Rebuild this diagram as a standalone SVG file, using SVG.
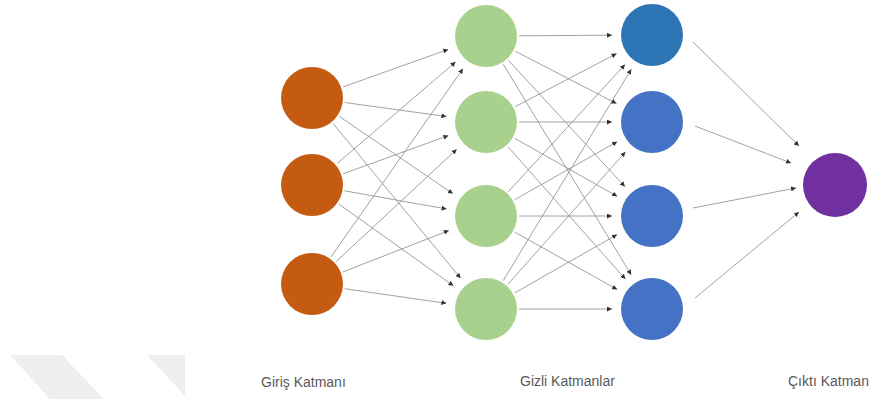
<svg xmlns="http://www.w3.org/2000/svg" width="870" height="399" viewBox="0 0 870 399">
<defs>
<style>
.edge{stroke:#8a8a8a;stroke-width:0.8;fill:none;marker-end:url(#arr)}
.lbl{font-family:"Liberation Sans",Arial,sans-serif;font-size:14px;fill:#595959}
.in{fill:#C55A11}
.hid{fill:#A9D18E}
.h2{fill:#4472C4}
.out{fill:#7030A0}
.wm{fill:#efefef}
</style>
<marker id="arr" viewBox="0 0 6 6" refX="6" refY="3" markerWidth="5" markerHeight="5" markerUnits="userSpaceOnUse" orient="auto">
<path d="M0,0 L6,3 L0,6 z" fill="#333"/>
</marker>
</defs>
<rect width="870" height="399" fill="#ffffff"/>
<g id="watermark">
<polygon class="wm" points="10,355 62,355 104,399 50,399"/>
<polygon class="wm" points="147,355 185,355 185,396"/>
</g>
<g id="connectors">
<line class="edge" x1="343.1" y1="86.9" x2="448.3" y2="49.4"/>
<line class="edge" x1="344.7" y1="102.5" x2="446.4" y2="116.5"/>
<line class="edge" x1="339.3" y1="116.5" x2="452.9" y2="193.6"/>
<line class="edge" x1="333.0" y1="123.4" x2="460.6" y2="278.2"/>
<line class="edge" x1="337.1" y1="163.5" x2="455.6" y2="62.0"/>
<line class="edge" x1="343.0" y1="173.8" x2="448.4" y2="135.6"/>
<line class="edge" x1="344.5" y1="190.8" x2="446.6" y2="209.0"/>
<line class="edge" x1="338.9" y1="204.1" x2="453.4" y2="285.8"/>
<line class="edge" x1="330.9" y1="257.0" x2="463.0" y2="68.7"/>
<line class="edge" x1="336.2" y1="261.5" x2="456.7" y2="149.3"/>
<line class="edge" x1="342.7" y1="272.0" x2="448.8" y2="230.6"/>
<line class="edge" x1="344.7" y1="288.7" x2="446.4" y2="303.3"/>
<line class="edge" x1="519" y1="35.8" x2="612" y2="35.2"/>
<line class="edge" x1="515.3" y1="51.2" x2="616.5" y2="103.6"/>
<line class="edge" x1="508.4" y1="60.3" x2="624.9" y2="186.6"/>
<line class="edge" x1="503.2" y1="64.2" x2="631.2" y2="274.8"/>
<line class="edge" x1="515.2" y1="106.7" x2="616.6" y2="53.6"/>
<line class="edge" x1="519" y1="122" x2="612" y2="122"/>
<line class="edge" x1="514.7" y1="138.3" x2="617.2" y2="196.3"/>
<line class="edge" x1="507.9" y1="146.7" x2="625.4" y2="279.1"/>
<line class="edge" x1="508.3" y1="191.7" x2="625.0" y2="64.5"/>
<line class="edge" x1="514.7" y1="199.7" x2="617.2" y2="141.7"/>
<line class="edge" x1="519" y1="216" x2="612" y2="216"/>
<line class="edge" x1="514.8" y1="232.1" x2="617.1" y2="289.4"/>
<line class="edge" x1="503.1" y1="280.8" x2="631.3" y2="69.2"/>
<line class="edge" x1="507.9" y1="284.3" x2="625.4" y2="151.9"/>
<line class="edge" x1="514.8" y1="292.9" x2="617.1" y2="234.6"/>
<line class="edge" x1="519" y1="309" x2="612" y2="309"/>
<line class="edge" x1="693" y1="42" x2="799" y2="146"/>
<line class="edge" x1="695" y1="126" x2="791" y2="163"/>
<line class="edge" x1="693" y1="208" x2="796" y2="188"/>
<line class="edge" x1="695" y1="298" x2="799" y2="212"/>
</g>
<g id="in1"><circle class="in" cx="312" cy="98" r="31"/></g>
<g id="in2"><circle class="in" cx="312" cy="185" r="31"/></g>
<g id="in3"><circle class="in" cx="312" cy="284" r="31"/></g>
<g id="h1"><circle class="hid" cx="486" cy="36" r="31"/></g>
<g id="h2"><circle class="hid" cx="486" cy="122" r="31"/></g>
<g id="h3"><circle class="hid" cx="486" cy="216" r="31"/></g>
<g id="h4"><circle class="hid" cx="486" cy="309" r="31"/></g>
<g id="b1"><circle cx="652" cy="35" r="31" fill="#2E75B6"/></g>
<g id="b2"><circle class="h2" cx="652" cy="122" r="31"/></g>
<g id="b3"><circle class="h2" cx="652" cy="216" r="31"/></g>
<g id="b4"><circle class="h2" cx="652" cy="309" r="31"/></g>
<g id="out"><circle class="out" cx="835" cy="185" r="32"/></g>
<g id="labels">
<text class="lbl" x="261" y="387">Giriş Katmanı</text>
<text class="lbl" x="520" y="386">Gizli Katmanlar</text>
<text class="lbl" x="788" y="386">Çıktı Katman</text>
</g>
</svg>
